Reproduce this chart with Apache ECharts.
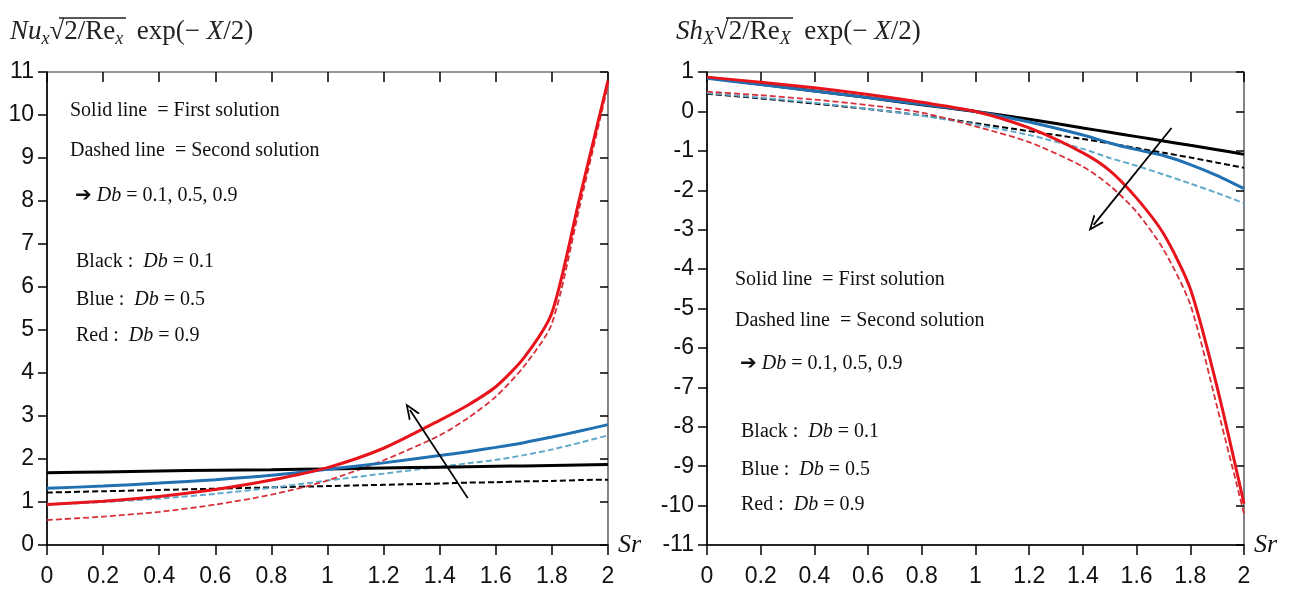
<!DOCTYPE html>
<html>
<head>
<meta charset="utf-8">
<script src="https://cdn.jsdelivr.net/npm/echarts@6/dist/echarts.min.js"></script>
<style>
html,body{margin:0;padding:0;background:#fff;}
#chart{width:1294px;height:590px;}
</style>
</head>
<body>
<div id="chart"></div>
<script>
// ---- data ----
const sr = [0, 0.2, 0.4, 0.6, 0.8, 1.0, 1.2, 1.4, 1.5, 1.6, 1.7, 1.8, 1.9, 2.0];

// Left panel: Nu_x sqrt(2/Re_x) exp(-X/2)
const nuBlackFirst  = [1.68, 1.70, 1.72, 1.74, 1.75, 1.77, 1.79, 1.81, 1.82, 1.83, 1.84, 1.85, 1.86, 1.87];
const nuBlackSecond = [1.22, 1.25, 1.28, 1.31, 1.34, 1.37, 1.40, 1.43, 1.45, 1.46, 1.48, 1.49, 1.51, 1.52];
const nuBlueFirst   = [1.32, 1.37, 1.44, 1.52, 1.62, 1.76, 1.91, 2.08, 2.17, 2.27, 2.38, 2.51, 2.65, 2.80];
const nuBlueSecond  = [0.94, 1.00, 1.08, 1.19, 1.33, 1.50, 1.66, 1.82, 1.90, 1.98, 2.09, 2.22, 2.38, 2.55];
const nuRedFirst    = [0.94, 1.02, 1.13, 1.29, 1.51, 1.80, 2.25, 2.90, 3.25, 3.68, 4.35, 5.40, 8.10, 10.8];
const nuRedSecond   = [0.58, 0.66, 0.77, 0.94, 1.17, 1.50, 1.97, 2.55, 2.95, 3.45, 4.15, 5.15, 7.90, 10.7];

// Right panel: Sh_X sqrt(2/Re_X) exp(-X/2)
const shBlackFirst  = [0.86, 0.69, 0.52, 0.35, 0.17, 0.00, -0.20, -0.42, -0.53, -0.64, -0.75, -0.86, -0.97, -1.09];
const shBlackSecond = [0.45, 0.33, 0.20, 0.06, -0.10, -0.30, -0.50, -0.70, -0.81, -0.93, -1.05, -1.17, -1.30, -1.43];
const shBlueFirst   = [0.84, 0.68, 0.52, 0.35, 0.18, 0.00, -0.27, -0.60, -0.80, -0.97, -1.12, -1.35, -1.63, -1.96];
const shBlueSecond  = [0.47, 0.35, 0.22, 0.07, -0.11, -0.33, -0.60, -0.95, -1.18, -1.38, -1.60, -1.83, -2.07, -2.33];
const shRedFirst    = [0.87, 0.74, 0.60, 0.43, 0.23, 0.00, -0.42, -1.05, -1.50, -2.20, -3.10, -4.50, -7.00, -9.95];
const shRedSecond   = [0.50, 0.41, 0.30, 0.16, -0.03, -0.38, -0.78, -1.40, -1.88, -2.55, -3.50, -4.90, -7.50, -10.2];

// direction arrows (Db increasing), in data coordinates [Sr, value]
const arrowNu = [[1.50, 1.09], [1.294, 3.14]];
const arrowSh = [[1.73, -0.42], [1.44, -2.88]];

// axis ranges / tick labels
const xRange = {min: 0, max: 2, interval: 0.2};
const nuRange = {min: 0, max: 11, interval: 1};
const shRange = {min: -11, max: 1, interval: 1};

// ---- styling ----
const SERIF = '"Liberation Serif", "Times New Roman", serif';
const SANS = '"Liberation Sans", Arial, sans-serif';
const C_BLACK = '#000000', C_BLUE = '#2070b2', C_LBLUE = '#62aacb', C_RED = '#e8141c', C_RED2 = '#d8303a';
const ARROW_PATH = 'path://M0,14 L6,0 L12,14 L10.2,14 L6,4 L1.8,14 Z';

function pairs(ys) { return sr.map((x, i) => [x, ys[i]]); }

function line(name, ys, color, width, dashed, axisIdx, z) {
  return {
    name: name, type: 'line', data: pairs(ys),
    xAxisIndex: axisIdx, yAxisIndex: axisIdx,
    showSymbol: false, symbol: 'none',
    smooth: 0.25,
    lineStyle: {color: color, width: width, type: dashed ? [6, 3] : 'solid'},
    z: z, silent: true, animation: false
  };
}

function arrowMark(a) {
  return {
    silent: true, animation: false,
    symbol: ['none', ARROW_PATH], symbolSize: [13, 16],
    label: {show: false},
    lineStyle: {color: '#000', width: 1.8, type: 'solid'},
    emphasis: {disabled: true},
    data: [[{coord: a[0]}, {coord: a[1]}]]
  };
}

function mainX(grid) {
  return {
    type: 'value', gridIndex: grid, min: xRange.min, max: xRange.max, interval: xRange.interval,
    name: 'Sr', nameLocation: 'end', nameGap: 10,
    nameTextStyle: {fontFamily: SERIF, fontStyle: 'italic', fontSize: 26, color: '#111', verticalAlign: 'middle', padding: [12, 0, 0, 0]},
    axisLine: {show: true, onZero: false, lineStyle: {color: '#000', width: 1.5}},
    axisTick: {show: true, inside: false, length: 10, lineStyle: {color: '#000', width: 1.5}},
    axisLabel: {margin: 20, fontFamily: SANS, fontSize: 23, color: '#111'},
    splitLine: {show: false}
  };
}
function dupX(grid) {
  return {
    type: 'value', gridIndex: grid, min: xRange.min, max: xRange.max, interval: xRange.interval,
    axisLine: {show: false, onZero: false},
    axisTick: {show: true, inside: true, length: 10, lineStyle: {color: '#000', width: 1.5}},
    axisLabel: {show: false}, splitLine: {show: false}
  };
}
function mainY(grid, r) {
  return {
    type: 'value', gridIndex: grid, min: r.min, max: r.max, interval: r.interval,
    axisLine: {show: true, onZero: false, lineStyle: {color: '#000', width: 1.5}},
    axisTick: {show: true, inside: false, length: 9, lineStyle: {color: '#000', width: 1.5}},
    axisLabel: {margin: 13, fontFamily: SANS, fontSize: 23, color: '#111'},
    splitLine: {show: false}
  };
}
function dupY(grid, r) {
  return {
    type: 'value', gridIndex: grid, min: r.min, max: r.max, interval: r.interval,
    axisLine: {show: false, onZero: false},
    axisTick: {show: true, inside: true, length: 8, lineStyle: {color: '#000', width: 1.5}},
    axisLabel: {show: false}, splitLine: {show: false}
  };
}

const richBase = {
  r: {fontFamily: SERIF, fontSize: 20, fill: '#111', color: '#111', lineHeight: 24},
  i: {fontFamily: SERIF, fontSize: 20, fontStyle: 'italic', fill: '#111', color: '#111', lineHeight: 24},
  a: {fontFamily: '"DejaVu Sans"', fontSize: 20, fontWeight: 'bold', fill: '#111', color: '#111', lineHeight: 24}
};

function note(x, cy, text) {
  return {type: 'text', left: x, top: cy - 12, silent: true,
    style: {text: text, rich: richBase, fontFamily: SERIF, fontSize: 20, fill: '#111'}};
}

function notes(x, ys) {
  return [
    note(x, ys[0], '{r|Solid line  = First solution}'),
    note(x, ys[1], '{r|Dashed line  = Second solution}'),
    note(x + 5, ys[2], '{a|\u2794}{r| }{i|Db}{r| = 0.1, 0.5, 0.9}'),
    note(x + 6, ys[3], '{r|Black :  }{i|Db}{r| = 0.1}'),
    note(x + 6, ys[4], '{r|Blue :  }{i|Db}{r| = 0.5}'),
    note(x + 6, ys[5], '{r|Red :  }{i|Db}{r| = 0.9}')
  ];
}

const titleRich = {
  m: {fontFamily: SERIF, fontSize: 27, fill: '#222', color: '#222', lineHeight: 30, verticalAlign: 'top'},
  mi: {fontFamily: SERIF, fontSize: 27, fontStyle: 'italic', fill: '#222', color: '#222', lineHeight: 30, verticalAlign: 'top'},
  sub: {fontFamily: SERIF, fontSize: 18, fontStyle: 'italic', fill: '#222', color: '#222', lineHeight: 18, padding: [16, 0, 0, 0], verticalAlign: 'bottom'}
};

function title(x, sym, sub) {
  return {type: 'text', left: x, top: 14, silent: true,
    style: {text: '{mi|' + sym + '}{sub|' + sub + '}{m|\u221A2/Re}{sub|' + sub + '}{m|  exp(\u2212 }{mi|X}{m|/2)}', rich: titleRich, fontFamily: SERIF, fontSize: 27}};
}

// radical overbar (vinculum) for the square roots in the titles
function vinculum(x1, x2) {
  return {type: 'line', silent: true, shape: {x1: x1, y1: 18, x2: x2, y2: 18}, style: {stroke: '#222', lineWidth: 1.3}};
}

const chart = echarts.init(document.getElementById('chart'), null, {renderer: 'canvas'});
chart.setOption({
  animation: false,
  backgroundColor: '#ffffff',
  grid: [
    {left: 47, top: 72, width: 561, height: 473, show: true, borderColor: '#333', borderWidth: 1.2, backgroundColor: 'transparent'},
    {left: 707, top: 72, width: 537, height: 473, show: true, borderColor: '#333', borderWidth: 1.2, backgroundColor: 'transparent'}
  ],
  xAxis: [mainX(0), mainX(1), dupX(0), dupX(1)],
  yAxis: [mainY(0, nuRange), mainY(1, shRange), dupY(0, nuRange), dupY(1, shRange)],
  series: [
    line('Black second (Nu)', nuBlackSecond, C_BLACK, 2, true, 0, 2),
    line('Blue second (Nu)', nuBlueSecond, C_LBLUE, 2, true, 0, 2),
    line('Red second (Nu)', nuRedSecond, C_RED2, 1.8, true, 0, 2),
    line('Black first (Nu)', nuBlackFirst, C_BLACK, 3, false, 0, 3),
    line('Blue first (Nu)', nuBlueFirst, C_BLUE, 3, false, 0, 3),
    Object.assign(line('Red first (Nu)', nuRedFirst, C_RED, 3, false, 0, 4), {markLine: arrowMark(arrowNu)}),

    line('Black second (Sh)', shBlackSecond, C_BLACK, 2, true, 1, 2),
    line('Blue second (Sh)', shBlueSecond, C_LBLUE, 2, true, 1, 2),
    line('Red second (Sh)', shRedSecond, C_RED2, 1.8, true, 1, 2),
    line('Black first (Sh)', shBlackFirst, C_BLACK, 3, false, 1, 3),
    line('Blue first (Sh)', shBlueFirst, C_BLUE, 3, false, 1, 3),
    Object.assign(line('Red first (Sh)', shRedFirst, C_RED, 3, false, 1, 4), {markLine: arrowMark(arrowSh)})
  ],
  graphic: [
    title(10, 'Nu', 'x'),
    title(676, 'Sh', 'X'),
    vinculum(59, 126),
    vinculum(726, 793)
  ].concat(notes(70, [113, 153, 198, 264, 302, 338]))
   .concat(notes(735, [282, 323, 366, 434, 472, 507]))
});
</script>
</body>
</html>
